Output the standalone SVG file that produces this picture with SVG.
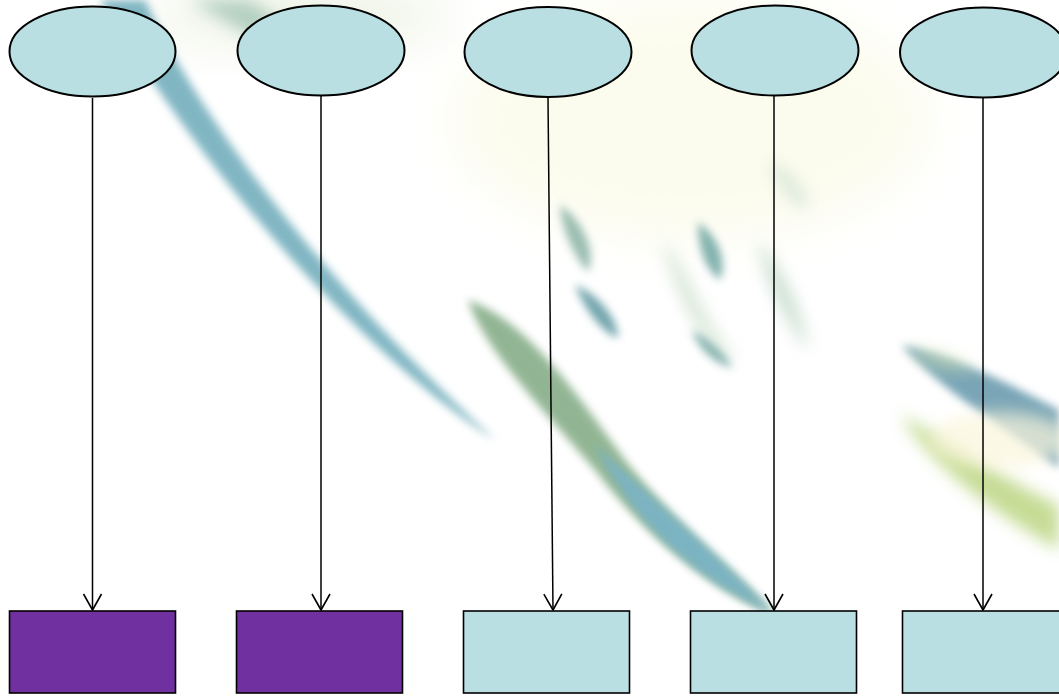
<svg xmlns="http://www.w3.org/2000/svg" width="1059" height="696" viewBox="0 0 1059 696">
<defs>
<filter id="b8" x="-50%" y="-50%" width="200%" height="200%"><feGaussianBlur stdDeviation="8"/></filter>
<filter id="b4" x="-50%" y="-50%" width="200%" height="200%"><feGaussianBlur stdDeviation="4"/></filter>
<filter id="b20" x="-50%" y="-50%" width="200%" height="200%"><feGaussianBlur stdDeviation="25"/></filter>
<marker id="arr" viewBox="0 0 20 20" refX="18" refY="10" markerWidth="20" markerHeight="20" markerUnits="userSpaceOnUse" orient="auto">
<path d="M2,1 L18,10 L2,19" fill="none" stroke="#000" stroke-width="1.6"/>
</marker>
</defs>
<style>
.ell{fill:#b9dfe3;stroke:#000;stroke-width:2}
.rb{fill:#b9dfe3;stroke:#000;stroke-width:1.6}
.rp{fill:#7030a0;stroke:#000;stroke-width:1.6}
.con{stroke:#000;stroke-width:1.5;fill:none;marker-end:url(#arr)}
</style>
<rect width="1059" height="696" fill="#ffffff"/>
<g id="background">
<ellipse cx="690" cy="120" rx="240" ry="120" fill="#fcfcee" filter="url(#b20)"/>
<ellipse cx="300" cy="15" rx="150" ry="30" fill="#eef3e4" filter="url(#b20)"/>
<path d="M100,0 L145,0 C200,120 330,290 495,440 C400,380 240,230 100,0 Z" fill="#6aa9b8" opacity="0.85" filter="url(#b4)"/>
<path d="M190,0 L250,0 C285,25 305,40 330,65 L290,60 Z" fill="#9fc3b2" opacity="0.75" filter="url(#b8)"/>
<path d="M468,300 C525,320 570,385 625,460 C680,530 735,570 775,615 C710,590 640,530 595,470 C535,400 485,350 468,300 Z" fill="#86ad88" opacity="0.9" filter="url(#b4)"/>
<path d="M595,445 C655,500 725,560 775,615 C695,580 635,525 595,445 Z" fill="#79b3c8" opacity="0.9" filter="url(#b4)"/>
<path d="M560,205 C580,218 598,250 588,272 C575,258 562,232 560,205 Z" fill="#7aa89a" opacity="0.75" filter="url(#b4)"/>
<path d="M575,285 C600,295 618,320 618,338 C600,332 583,305 575,285 Z" fill="#4f8f99" opacity="0.8" filter="url(#b4)"/>
<path d="M698,222 C720,238 727,262 720,280 C703,268 698,245 698,222 Z" fill="#5c9a95" opacity="0.75" filter="url(#b4)"/>
<path d="M662,240 C690,270 700,320 738,362 C705,352 678,300 662,240 Z" fill="#b8d3b5" opacity="0.6" filter="url(#b8)"/>
<path d="M692,330 C710,340 727,355 732,368 C712,362 698,347 692,330 Z" fill="#5f9a96" opacity="0.75" filter="url(#b4)"/>
<path d="M758,240 C782,270 802,310 808,352 C790,322 768,290 758,240 Z" fill="#a5c8b0" opacity="0.65" filter="url(#b8)"/>
<path d="M768,160 C792,170 808,190 808,212 C790,202 773,182 768,160 Z" fill="#c5dccc" opacity="0.6" filter="url(#b8)"/>
<path d="M902,345 C960,358 1012,385 1059,410 L1059,468 C1000,425 938,388 902,345 Z" fill="#6496aa" opacity="0.85" filter="url(#b4)"/>
<path d="M905,348 C940,350 962,360 978,370 C950,372 922,364 905,348 Z" fill="#d4e4b4" opacity="0.7" filter="url(#b8)"/>
<path d="M900,415 C960,445 1012,485 1059,505 L1059,550 C998,515 935,470 900,415 Z" fill="#b7d37a" opacity="0.8" filter="url(#b8)"/>
<ellipse cx="1000" cy="440" rx="70" ry="28" fill="#fbf6dc" opacity="0.7" filter="url(#b8)"/>
</g>
<g id="connectors">
<line class="con" x1="92.5" y1="98" x2="92.5" y2="610"/>
<line class="con" x1="321" y1="96" x2="321" y2="610"/>
<line class="con" x1="548" y1="98" x2="553" y2="610"/>
<line class="con" x1="774" y1="96" x2="774" y2="610"/>
<line class="con" x1="983" y1="98" x2="983" y2="610"/>
</g>
<g id="top1"><ellipse class="ell" cx="92.5" cy="51.5" rx="83" ry="45"/></g>
<g id="top2"><ellipse class="ell" cx="321" cy="50.5" rx="83.5" ry="45"/></g>
<g id="top3"><ellipse class="ell" cx="548" cy="52" rx="83.5" ry="45"/></g>
<g id="top4"><ellipse class="ell" cx="775" cy="50.5" rx="83.5" ry="45"/></g>
<g id="top5"><ellipse class="ell" cx="983.5" cy="52.5" rx="83.5" ry="45"/></g>
<g id="bot1"><rect class="rp" x="9.5" y="611" width="166" height="82"/></g>
<g id="bot2"><rect class="rp" x="236.5" y="611" width="166" height="82"/></g>
<g id="bot3"><rect class="rb" x="463.5" y="611" width="166" height="82"/></g>
<g id="bot4"><rect class="rb" x="690.5" y="611" width="166" height="82"/></g>
<g id="bot5"><rect class="rb" x="902.5" y="611" width="166" height="82"/></g>
</svg>
